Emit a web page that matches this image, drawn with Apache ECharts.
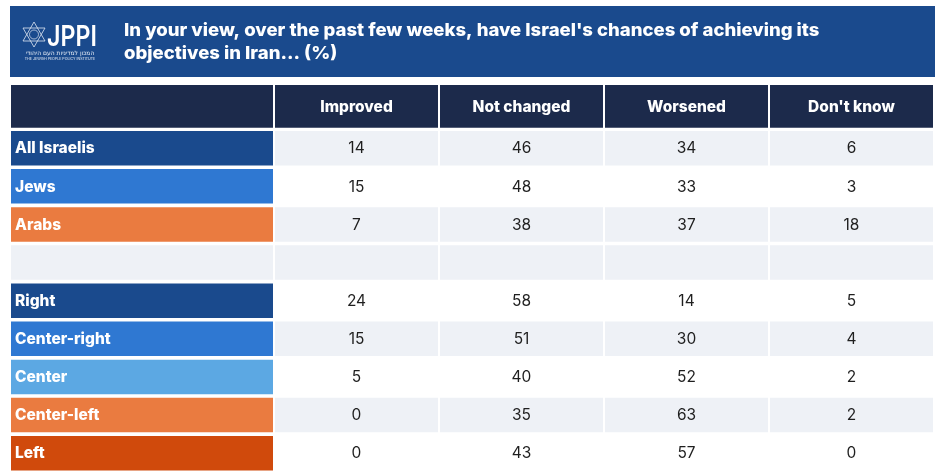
<!DOCTYPE html>
<html><head><meta charset="utf-8">
<script src="https://cdn.jsdelivr.net/npm/echarts@6/dist/echarts.min.js"></script>
<style>html,body{margin:0;padding:0;background:#fff;}#c{width:936px;height:474px;}</style>
</head><body><div id="c"></div>
<script>
const rowLabels = ['All Israelis','Jews','Arabs','','Right','Center-right','Center','Center-left','Left'];
const columns = ['Improved','Not changed','Worsened',"Don't know"];
const improved   = [14,15,7,null,24,15,5,0,0];
const notChanged = [46,48,38,null,58,51,40,35,43];
const worsened   = [34,33,37,null,14,30,52,63,57];
const dontKnow   = [6,3,18,null,5,4,2,2,0];
const titleLines = ["In your view, over the past few weeks, have Israel's chances of achieving its", "objectives in Iran... (%)"];

const seriesValues = [improved, notChanged, worsened, dontKnow];
const labelColors = ['#1a4a8d','#2f78d2','#ea7b40','#eef1f6','#1a4a8d','#2f78d2','#5ca8e3','#ea7b40','#d04a0c'];
const rowShade = ['#eef1f6','#ffffff','#eef1f6','#eef1f6','#ffffff','#eef1f6','#ffffff','#eef1f6','#ffffff'];
const FONT = 'Inter, Roboto, "Noto Sans", sans-serif';

const chart = echarts.init(document.getElementById('c'), null, {renderer:'canvas'});

const bodyData = [];
columns.forEach((c, ci) => rowLabels.forEach((r, ri) => bodyData.push([ci, ri])));
const labelData = rowLabels.map((r, ri) => [0, ri]);
const headData = columns.map((c, ci) => [ci, 0]);

function cell(api, gapX, gapY){
  const p = api.coord([api.value(0), api.value(1)]);
  const s = api.size([1,1]);
  return {x: p[0]-s[0]/2, y: p[1]-s[1]/2, w: s[0]-gapX, h: s[1]-gapY};
}

const option = {
  animation: false,
  backgroundColor: '#fff',
  grid: [
    {left: 11, top: 85, width: 264, height: 43},
    {left: 275, top: 85, width: 660, height: 43},
    {left: 11, top: 131, width: 264, height: 343},
    {left: 275, top: 131, width: 660, height: 343}
  ],
  xAxis: [
    {gridIndex:0, type:'category', data:[''], show:false},
    {gridIndex:1, type:'category', data:columns, show:false},
    {gridIndex:2, type:'category', data:[''], show:false},
    {gridIndex:3, type:'category', data:columns, show:false}
  ],
  yAxis: [
    {gridIndex:0, type:'category', data:[''], show:false},
    {gridIndex:1, type:'category', data:[''], show:false},
    {gridIndex:2, type:'category', data:rowLabels, inverse:true, show:false},
    {gridIndex:3, type:'category', data:rowLabels, inverse:true, show:false}
  ],
  graphic: [
    {type:'rect', shape:{x:10, y:6, width:925, height:71}, style:{fill:'#1a4a8d'}, silent:true},
    {type:'polygon', shape:{points:[[34,22],[45,41],[23,41]]}, style:{fill:'none', stroke:'#dfe7f2', lineWidth:0.8}},
    {type:'polygon', shape:{points:[[34,47],[45,28],[23,28]]}, style:{fill:'none', stroke:'#dfe7f2', lineWidth:0.8}},
    {type:'circle', shape:{cx:34, cy:34.5, r:4.5}, style:{fill:'none', stroke:'#dfe7f2', lineWidth:0.7}},
    {type:'text', x:47, y:37, scaleX:0.8, style:{text:'JPPI', x:0, y:0, verticalAlign:'middle', font:'600 29px '+FONT, fill:'#ffffff'}},
    {type:'text', style:{text:'המכון למדיניות העם היהודי', x:60, y:53, align:'center', verticalAlign:'middle', font:'6px "DejaVu Sans", sans-serif', fill:'#e8eef7'}},
    {type:'text', style:{text:'THE JEWISH PEOPLE POLICY INSTITUTE', x:60, y:58.5, align:'center', verticalAlign:'middle', font:'3.6px '+FONT, fill:'#e8eef7'}},
    {type:'text', x:124, y:31, scaleX:1.03, style:{text:titleLines[0], x:0, y:0, verticalAlign:'middle', font:'800 18px '+FONT, fill:'#ffffff'}},
    {type:'text', x:124, y:54, scaleX:1.03, style:{text:titleLines[1], x:0, y:0, verticalAlign:'middle', font:'800 18px '+FONT, fill:'#ffffff'}}
  ],
  series: [
    {type:'custom', xAxisIndex:0, yAxisIndex:0, data:[[0,0]], silent:true,
     renderItem:(params, api) => { const c = cell(api, 2, 0.3);
       return {type:'rect', shape:{x:c.x, y:c.y, width:c.w, height:c.h}, style:{fill:'#1c2a4b'}}; }},
    {type:'custom', xAxisIndex:1, yAxisIndex:1, data:headData, silent:true,
     renderItem:(params, api) => { const c = cell(api, 2, 0.3);
       return {type:'group', children:[
         {type:'rect', shape:{x:c.x, y:c.y, width:c.w, height:c.h}, style:{fill:'#1c2a4b'}},
         {type:'text', style:{text:columns[api.value(0)], x:c.x+c.w/2, y:c.y+c.h/2+1, align:'center', verticalAlign:'middle', font:'800 15.5px '+FONT, fill:'#ffffff'}}
       ]}; }},
    {type:'custom', xAxisIndex:2, yAxisIndex:2, data:labelData, silent:true,
     renderItem:(params, api) => { const c = cell(api, 2, 3.6); const ri = api.value(1);
       return {type:'group', children:[
         {type:'rect', shape:{x:c.x, y:c.y, width:c.w, height:c.h}, style:{fill:labelColors[ri]}},
         {type:'text', style:{text:rowLabels[ri], x:c.x+4, y:c.y+c.h/2+0.5, verticalAlign:'middle', font:'800 15.5px '+FONT, fill:'#ffffff'}}
       ]}; }},
    {type:'custom', xAxisIndex:3, yAxisIndex:3, data:bodyData, silent:true,
     renderItem:(params, api) => { const c = cell(api, 2, 3.6); const ci = api.value(0), ri = api.value(1);
       const v = seriesValues[ci][ri];
       return {type:'group', children:[
         {type:'rect', shape:{x:c.x, y:c.y, width:c.w, height:c.h}, style:{fill:rowShade[ri]}},
         {type:'text', style:{text: v == null ? '' : String(v), x:c.x+c.w/2, y:c.y+c.h/2+0.5, align:'center', verticalAlign:'middle', font:'15.5px '+FONT, fill:'#1f1f1f'}}
       ]}; }}
  ]
};
chart.setOption(option);
</script></body></html>
